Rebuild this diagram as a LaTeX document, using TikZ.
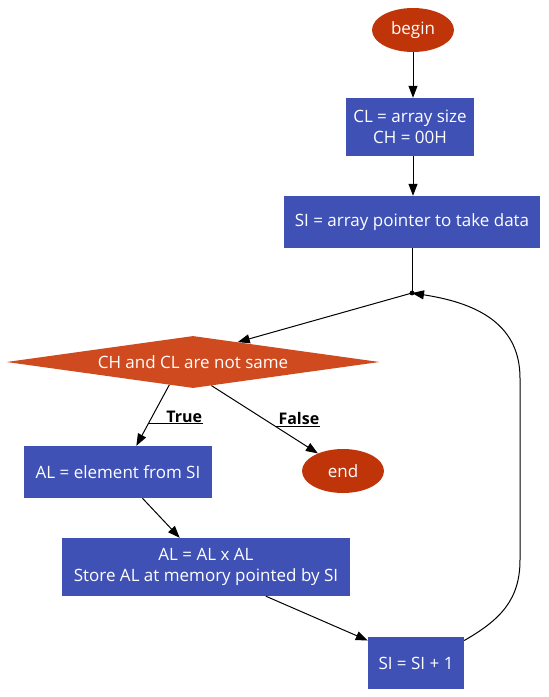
\documentclass[tikz,border=0pt]{standalone}
\usepackage{fontspec}
\setmainfont{Open Sans}
\usetikzlibrary{shapes.geometric, arrows.meta}

\definecolor{boxblue}{RGB}{63,81,181}
\definecolor{termred}{RGB}{192,52,10}
\definecolor{testred}{RGB}{208,74,31}

\tikzset{
  procbox/.style={rectangle, fill=boxblue, text=white, align=center, inner sep=0pt},
  termnode/.style={ellipse, fill=termred, text=white, inner sep=0pt, minimum width=82pt, minimum height=44pt},
  testnode/.style={diamond, fill=testred, text=white, inner sep=0pt, aspect=7, minimum width=373pt, minimum height=52pt},
  flow/.style={draw=black, line width=1pt}
}

\begin{document}
\begin{tikzpicture}[x=1pt, y=-1pt, >={Triangle[length=12pt, width=9pt]},
    every node/.style={font=\fontsize{17}{21}\selectfont}]
            \useasboundingbox (0,0) rectangle (549,697);

            % Đầu và cuối
            \node[termnode] (begin) at (413,30) {begin};
            \node[termnode] (done) at (343,471) {end};

            % Các hộp xử lý
            \node[procbox, minimum width=128pt, minimum height=58pt] (init) at (410,127) {CL = array size\\CH = 00H};
            \node[procbox, minimum width=256pt, minimum height=52pt] (ptr) at (412,222) {SI = array pointer to take data};
            \node[procbox, minimum width=188pt, minimum height=52pt] (fetch) at (118,472) {AL = element from SI};
            \node[procbox, minimum width=288pt, minimum height=58pt] (square) at (206,567) {AL = AL x AL\\Store AL at memory pointed by SI};
            \node[procbox, minimum width=96pt, minimum height=52pt] (inc) at (416,663) {SI = SI + 1};

            % Điều kiện
            \node[testnode] (cmp) at (193,362) {CH and CL are not same};

            % Điểm nối
            \coordinate (jn) at (412,293);
            \fill (jn) circle (2.4pt);

            % Các cạnh
            \draw[flow, ->] (begin) -- (begin |- init.north);
            \draw[flow, ->] (init.south -| begin) -- (begin |- ptr.north);
            \draw[flow] (ptr.south) -- (jn);
            \draw[flow, ->] (jn) -- (cmp.24);
            \draw[flow, ->] (cmp.224) -- coordinate[pos=0.64] (tpt) (fetch.55);
            \draw[flow, ->] (cmp.308) -- coordinate[pos=0.6] (fpt) (done.145);
            \draw[flow, ->] (fetch.313) -- (square.132);
            \draw[flow, ->] (square.334) -- (inc.155);

            % Vòng lặp
            \draw[flow, ->] (inc.25) .. controls (500,620) and (520,600) .. (520,560)
                -- (520,378) .. controls (520,320) and (470,302) .. (jn);

            % Nhãn True / False
            \node[font=\fontsize{16}{20}\selectfont\bfseries, anchor=south west, inner sep=1pt] (ltrue) at ([xshift=17pt]tpt) {True};
            \draw[line width=1pt] (tpt) -- (tpt -| ltrue.east);
            \node[font=\fontsize{16}{20}\selectfont\bfseries, anchor=south west, inner sep=1pt] (lfalse) at ([xshift=2pt]fpt) {False};
            \draw[line width=1pt] (fpt) -- (fpt -| lfalse.east);
\end{tikzpicture}
\end{document}
